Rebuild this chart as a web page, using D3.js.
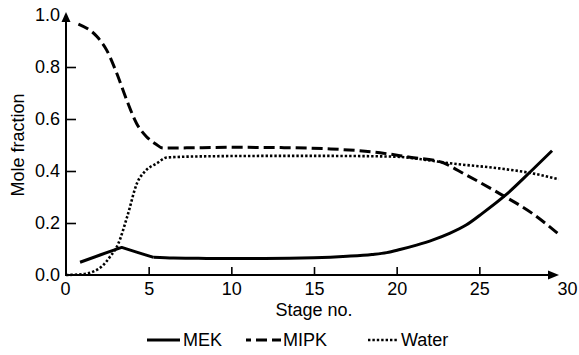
<!DOCTYPE html>
<html>
<head>
<meta charset="utf-8">
<script src="https://cdn.jsdelivr.net/npm/d3@7"></script>
<style>
  html, body { margin: 0; padding: 0; background: #fff; }
  svg { display: block; }
  text { font-family: "Liberation Sans", Arial, Helvetica, sans-serif; fill: #000; }
</style>
</head>
<body>
<svg id="chart" width="579" height="355"></svg>
<script>
// ---- data ----
const mekStage  = [0.85, 2.06, 2.76, 3.37, 4.27, 5.3, 6.5, 8, 10, 12, 15, 17, 18.5, 19.4, 20.2, 21.2, 22.2, 23.2, 24.2, 25.2, 26.6, 28.2, 29.4];
const mekValue  = [0.049, 0.077, 0.093, 0.106, 0.088, 0.068, 0.065, 0.064, 0.063, 0.063, 0.066, 0.072, 0.079, 0.086, 0.098, 0.115, 0.135, 0.16, 0.192, 0.238, 0.308, 0.404, 0.478];

const mipkStage = [0.75, 1.87, 2.46, 3.07, 3.67, 4.27, 4.87, 5.4, 5.87, 7.3, 10, 13, 16, 19, 20.8, 22.6, 24.2, 26.2, 28.2, 29.75];
const mipkValue = [0.965, 0.917, 0.865, 0.776, 0.673, 0.583, 0.532, 0.505, 0.488, 0.489, 0.491, 0.490, 0.485, 0.47, 0.453, 0.436, 0.385, 0.314, 0.237, 0.16];

const waterStage = [0, 1.0, 1.64, 2.2, 2.66, 3.16, 3.7, 4.3, 4.8, 5.5, 6.1, 8, 12, 16, 20, 21.5, 23.2, 26.2, 28.05, 29.8];
const waterValue = [0.0, 0.003, 0.013, 0.035, 0.07, 0.12, 0.224, 0.354, 0.40, 0.43, 0.452, 0.456, 0.458, 0.458, 0.455, 0.445, 0.43, 0.41, 0.393, 0.368];

const xTicks = [0, 5, 10, 15, 20, 25, 30];
const yTicks = [0.0, 0.2, 0.4, 0.6, 0.8, 1.0];
const seriesNames = ["MEK", "MIPK", "Water"];
const xTitle = "Stage no.";
const yTitle = "Mole fraction";

// ---- layout ----
const svg = d3.select("#chart");
const FS = 18;
const x = d3.scaleLinear().domain([0, 30]).range([66, 562]);
const y = d3.scaleLinear().domain([0, 1]).range([275, 15]);

const styles = {
  MEK:   { width: 3,   dash: null, curve: d3.curveLinear },
  MIPK:  { width: 3,   dash: "11,5", curve: d3.curveMonotoneX },
  Water: { width: 2.6, dash: "2.4,2", curve: d3.curveMonotoneX }
};

const series = [
  { name: "MEK",   xs: mekStage,   ys: mekValue },
  { name: "MIPK",  xs: mipkStage,  ys: mipkValue },
  { name: "Water", xs: waterStage, ys: waterValue }
];

// axes
const yAxis = d3.axisLeft(y).tickValues(yTicks).tickFormat(d3.format(".1f"))
  .tickSize(-10).tickSizeOuter(0).tickPadding(6);
const gy = svg.append("g").attr("transform", `translate(${x(0)},0)`).call(yAxis);
gy.select(".domain").remove();
gy.selectAll(".tick line").attr("stroke", "#000").attr("stroke-width", 1.6)
  .filter(d => d === 0 || d === 1).remove();
gy.selectAll(".tick text").attr("font-size", FS).style("font-family", "Liberation Sans, Arial, sans-serif");

const xAxis = d3.axisBottom(x).tickValues(xTicks).tickFormat(d3.format("d"))
  .tickSize(-8).tickSizeOuter(0).tickPadding(7);
const gx = svg.append("g").attr("transform", `translate(0,${y(0)})`).call(xAxis);
gx.select(".domain").remove();
gx.selectAll(".tick line").attr("stroke", "#000").attr("stroke-width", 1.6)
  .filter(d => d === 0 || d === 30).remove();
gx.selectAll(".tick text").attr("font-size", FS).style("font-family", "Liberation Sans, Arial, sans-serif")
  .attr("dx", d => d === 30 ? 5 : (d === 0 ? -1 : 0));

// axis lines with arrows
const x0 = x(0), y0 = y(0);
svg.append("line").attr("x1", x0).attr("y1", y0 + 1).attr("x2", x0).attr("y2", 20)
  .attr("stroke", "#000").attr("stroke-width", 2);
svg.append("path").attr("d", `M${x0},12 L${x0 - 4.5},22 L${x0 + 4.5},22 Z`).attr("fill", "#000");
svg.append("line").attr("x1", x0 - 1).attr("y1", y0).attr("x2", 550).attr("y2", y0)
  .attr("stroke", "#000").attr("stroke-width", 2);
svg.append("path").attr("d", `M559,${y0} L548,${y0 - 4.5} L548,${y0 + 4.5} Z`).attr("fill", "#000");

// lines
series.forEach(s => {
  const pts = s.xs.map((v, i) => [v, s.ys[i]]);
  const st = styles[s.name];
  const line = d3.line().x(d => x(d[0])).y(d => y(d[1])).curve(
    s.name === "MEK" ? d3.curveMonotoneX : st.curve);
  let gen = line;
  if (s.name === "MEK") {
    // sharp peak: linear through the first points, smooth afterwards
    const linGen = d3.line().x(d => x(d[0])).y(d => y(d[1])).curve(d3.curveLinear);
    const head = pts.slice(0, 6);
    const tail = pts.slice(5);
    svg.append("path").datum(head).attr("d", linGen)
      .attr("fill", "none").attr("stroke", "#000").attr("stroke-width", st.width)
      .attr("stroke-linejoin", "round");
    svg.append("path").datum(tail).attr("d", line)
      .attr("fill", "none").attr("stroke", "#000").attr("stroke-width", st.width);
    return;
  }
  svg.append("path").datum(pts).attr("d", gen)
    .attr("fill", "none").attr("stroke", "#000")
    .attr("stroke-width", st.width)
    .attr("stroke-dasharray", st.dash);
});

// titles
svg.append("text").attr("x", x(15)).attr("y", 316).attr("text-anchor", "middle")
  .attr("font-size", FS).text(xTitle);
svg.append("text").attr("transform", `translate(24,${y(0.5)}) rotate(-90)`)
  .attr("text-anchor", "middle").attr("font-size", FS).text(yTitle);

// legend
const legendItems = [
  { name: seriesNames[0], x1: 147, x2: 180, tx: 183, offset: 0 },
  { name: seriesNames[1], x1: 246, x2: 281, tx: 283, offset: 6 },
  { name: seriesNames[2], x1: 368, x2: 398, tx: 401, offset: 0 }
];
const ly = 340;
legendItems.forEach(it => {
  const st = styles[it.name];
  svg.append("line").attr("x1", it.x1).attr("x2", it.x2).attr("y1", ly).attr("y2", ly)
    .attr("stroke", "#000").attr("stroke-width", st.width)
    .attr("stroke-dasharray", st.dash).attr("stroke-dashoffset", it.offset);
  svg.append("text").attr("x", it.tx).attr("y", 346).attr("font-size", FS).text(it.name);
});
</script>
</body>
</html>
